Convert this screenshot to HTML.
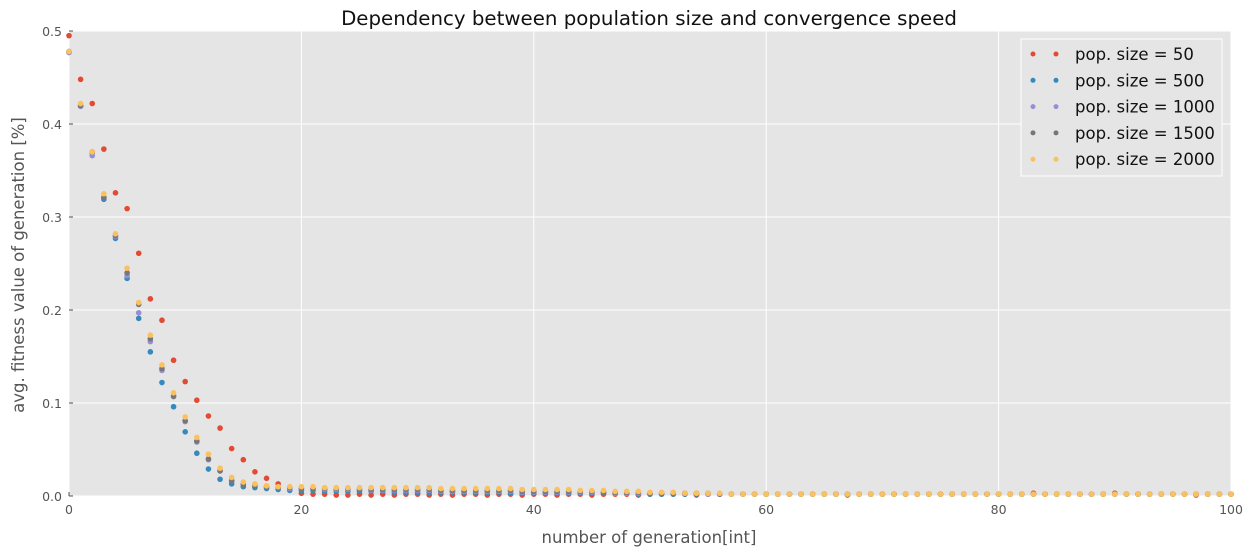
<!DOCTYPE html>
<html><head><meta charset="utf-8">
<style>
html,body{margin:0;padding:0;background:#fff;}
svg{display:block;font-family:"DejaVu Sans","Liberation Sans",sans-serif;}
</style></head>
<body>
<svg id="chart" width="1253" height="556" viewBox="0 0 1253 556">
  <rect x="69" y="31" width="1162" height="465" fill="#e5e5e5"/>
  <g id="grid"></g>
  <g id="ticks"></g>
  <g id="marks"></g>
  <text x="649" y="25" text-anchor="middle" font-size="19.8" fill="#111">Dependency between population size and convergence speed</text>
  <text x="649" y="543" text-anchor="middle" font-size="16.5" fill="#555">number of generation[int]</text>
  <text x="24" y="265" text-anchor="middle" font-size="16.5" fill="#555" transform="rotate(-90 24 265)">avg. fitness value of generation [%]</text>
  <g id="legend">
    <rect x="1021" y="39" width="201" height="137" fill="#e5e5e5" stroke="#fff" stroke-width="1"/>
  </g>
</svg>
<script>
const labels = ["pop. size = 50","pop. size = 500","pop. size = 1000","pop. size = 1500","pop. size = 2000"];
const colors = ["#e24a33","#348abd","#988ed5","#777777","#fbc15e"];
const xTicks = [0,20,40,60,80,100];
const yTicks = [0,0.1,0.2,0.3,0.4,0.5];
const yTickLabels = ["0.0","0.1","0.2","0.3","0.4","0.5"];
const s50 = [0.495,0.448,0.422,0.373,0.326,0.309,0.261,0.212,0.189,0.146,0.123,0.103,0.086,0.073,0.051,0.039,0.026,0.019,0.013,0.009,
0.003,0.002,0.002,0.001,0.001,0.002,0.001,0.002,0.001,0.002,0.002,0.001,0.002,0.001,0.002,0.002,0.001,0.002,0.002,0.001,
0.002,0.002,0.001,0.002,0.002,0.001,0.002,0.002,0.002,0.001,0.002,0.002,0.002,0.002,0.001,0.002,0.002,0.002,0.002,0.002,
0.002,0.002,0.002,0.002,0.002,0.002,0.002,0.001,0.002,0.002,0.002,0.002,0.002,0.002,0.002,0.002,0.002,0.002,0.002,0.002,
0.002,0.002,0.002,0.003,0.002,0.002,0.002,0.002,0.002,0.002,0.003,0.002,0.002,0.002,0.002,0.002,0.002,0.001,0.002,0.002,0.002];
const s500 = [0.477,0.419,0.369,0.319,0.277,0.234,0.191,0.155,0.122,0.096,0.069,0.046,0.029,0.018,0.013,0.010,0.009,0.008,0.007,0.006,
0.006,0.006,0.005,0.005,0.005,0.005,0.005,0.005,0.004,0.004,0.004,0.004,0.004,0.004,0.004,0.004,0.004,0.004,0.003,0.003,
0.003,0.003,0.003,0.003,0.003,0.003,0.003,0.003,0.003,0.002,0.002,0.002,0.002,0.002,0.002,0.002,0.002,0.002,0.002,0.002,
0.002,0.002,0.002,0.002,0.002,0.002,0.002,0.002,0.002,0.002,0.002,0.002,0.002,0.002,0.002,0.002,0.002,0.002,0.002,0.002,
0.002,0.002,0.002,0.002,0.002,0.002,0.002,0.002,0.002,0.002,0.002,0.002,0.002,0.002,0.002,0.002,0.002,0.002,0.002,0.002,0.002];
const s1000 = [0.477,0.419,0.366,0.321,0.279,0.237,0.197,0.166,0.135,0.108,0.080,0.058,0.039,0.027,0.017,0.013,0.012,0.010,0.009,0.008,
0.008,0.008,0.007,0.007,0.007,0.007,0.006,0.006,0.006,0.006,0.006,0.006,0.005,0.005,0.005,0.005,0.005,0.005,0.005,0.004,
0.004,0.004,0.004,0.004,0.004,0.004,0.004,0.003,0.003,0.003,0.003,0.003,0.003,0.003,0.003,0.002,0.002,0.002,0.002,0.002,
0.002,0.002,0.002,0.002,0.002,0.002,0.002,0.002,0.002,0.002,0.002,0.002,0.002,0.002,0.002,0.002,0.002,0.002,0.002,0.002,
0.002,0.002,0.002,0.002,0.002,0.002,0.002,0.002,0.002,0.002,0.002,0.002,0.002,0.002,0.002,0.002,0.002,0.002,0.002,0.002,0.002];
const s1500 = [0.478,0.420,0.370,0.321,0.280,0.240,0.206,0.169,0.137,0.107,0.081,0.059,0.040,0.027,0.016,0.012,0.011,0.010,0.009,0.009,
0.008,0.008,0.008,0.008,0.008,0.007,0.007,0.007,0.007,0.007,0.007,0.007,0.006,0.006,0.006,0.006,0.006,0.006,0.006,0.005,
0.005,0.005,0.005,0.005,0.005,0.005,0.004,0.004,0.004,0.004,0.003,0.003,0.003,0.003,0.003,0.003,0.002,0.002,0.002,0.002,
0.002,0.002,0.002,0.002,0.002,0.002,0.002,0.002,0.002,0.002,0.002,0.002,0.002,0.002,0.002,0.002,0.002,0.002,0.002,0.002,
0.002,0.002,0.002,0.002,0.002,0.002,0.002,0.002,0.002,0.002,0.002,0.002,0.002,0.002,0.002,0.002,0.002,0.002,0.002,0.002,0.002];
const s2000 = [0.478,0.422,0.370,0.325,0.282,0.245,0.208,0.173,0.141,0.111,0.085,0.063,0.045,0.030,0.020,0.015,0.013,0.011,0.010,0.010,
0.010,0.010,0.009,0.009,0.009,0.009,0.009,0.009,0.009,0.009,0.009,0.009,0.008,0.008,0.008,0.008,0.008,0.008,0.008,0.007,
0.007,0.007,0.007,0.007,0.006,0.006,0.006,0.005,0.005,0.005,0.004,0.004,0.004,0.003,0.003,0.003,0.003,0.002,0.002,0.002,
0.002,0.002,0.002,0.002,0.002,0.002,0.002,0.002,0.002,0.002,0.002,0.002,0.002,0.002,0.002,0.002,0.002,0.002,0.002,0.002,
0.002,0.002,0.002,0.002,0.002,0.002,0.002,0.002,0.002,0.002,0.002,0.002,0.002,0.002,0.002,0.002,0.002,0.002,0.002,0.002,0.002];
const series = [s50,s500,s1000,s1500,s2000];

const NS = "http://www.w3.org/2000/svg";
const L=69,R=1231,T=31,B=496;
function xs(v){return L+(v-0)/(100-0)*(R-L);}
function ys(v){return B-(v-0)/(0.5-0)*(B-T);}
function mk(tag,attrs,parent){const e=document.createElementNS(NS,tag);for(const k in attrs)e.setAttribute(k,attrs[k]);parent.appendChild(e);return e;}
const grid=document.getElementById('grid'),ticks=document.getElementById('ticks'),marks=document.getElementById('marks'),legend=document.getElementById('legend');
xTicks.forEach(t=>{
  const x=xs(t);
  const g=mk('line',{x1:x,x2:x,y1:T,y2:B,stroke:'#fff','stroke-width':1},grid);
  
  
  const tk=mk('line',{x1:x,x2:x,y1:B,y2:B-4,stroke:'#555'},ticks);
  
  
  const tx=mk('text',{x:x,y:B+18,'text-anchor':'middle','font-size':12.5,fill:'#555'},ticks);
  tx.textContent=t;
  
  
});
yTicks.forEach((t,i)=>{
  const y=ys(t);
  const g=mk('line',{x1:L,x2:R,y1:y,y2:y,stroke:'#fff','stroke-width':1},grid);
  
  
  const tk=mk('line',{x1:L,x2:L+4,y1:y,y2:y,stroke:'#555'},ticks);
  
  
  const tx=mk('text',{x:L-7,y:y+5,'text-anchor':'end','font-size':12.5,fill:'#555'},ticks);
  tx.textContent=yTickLabels[i];
  
  
});
series.forEach((s,si)=>{
  s.forEach((v,i)=>{
    const c=mk('circle',{cx:xs(i),cy:ys(v),r:2.8,fill:colors[si]},marks);
    
    
  });
  const y=54+si*26.3;
  const c1=mk('circle',{cx:1033,cy:y,r:2.5,fill:colors[si]},legend);
  
  
  const c2=mk('circle',{cx:1056,cy:y,r:2.5,fill:colors[si]},legend);
  
  
  const tx=mk('text',{x:1075,y:y+6,'font-size':16.5,fill:'#111'},legend);
  tx.textContent=labels[si];
  
  
});
</script>
</body></html>
